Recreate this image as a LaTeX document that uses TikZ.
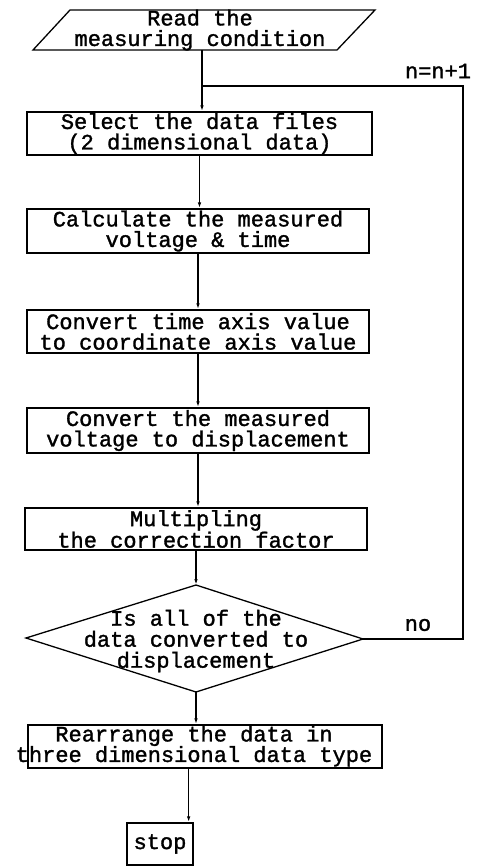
\documentclass[tikz,border=0pt]{standalone}
\usepackage{fontspec}
\newfontfamily\plotfont{Liberation Mono}[FakeBold=1.4]
\usetikzlibrary{arrows.meta}
\begin{document}
\begin{tikzpicture}[x=1pt,y=-1pt,
  every node/.style={font=\plotfont\fontsize{22}{20.5}\selectfont, inner sep=0pt, align=center},
  box/.style={draw, line width=1.3pt, rectangle},
  line/.style={line width=1.3pt},
  arr/.style={line width=1.3pt, -{Latex[length=6pt,width=3.5pt]}},
]
\useasboundingbox (0,0) rectangle (484,867);
% input parallelogram
\coordinate (ptl) at (70,10);
\coordinate (ptr) at (375,10);
\coordinate (pbr) at (337,50);
\coordinate (pbl) at (33,50);
\draw[line] (ptl) -- (ptr) -- (pbr) -- (pbl) -- cycle;
\node (read) at (200,30) {Read the\\measuring condition};
\coordinate (pb) at (202,50);
\coordinate (j) at (202,86);
% boxes
\node[box, minimum width=345pt, minimum height=43pt] (b1) at (199.5,133.5) {Select the data files\\(2 dimensional data)};
\node[box, minimum width=342pt, minimum height=44pt] (b2) at (198,231) {Calculate the measured\\voltage \& time};
\node[box, minimum width=342pt, minimum height=43pt] (b3) at (198,331.5) {Convert time axis value\\to coordinate axis value};
\node[box, minimum width=342pt, minimum height=45pt] (b4) at (198,430.5) {Convert the measured\\voltage to displacement};
\node[box, minimum width=342pt, minimum height=42pt] (b5) at (196,529) {Multipling\\the correction factor};
% decision
\coordinate (dt) at (196,585);
\coordinate (dr) at (363,639);
\coordinate (db) at (196,692);
\coordinate (dl) at (26,638);
\draw[line] (dt) -- (dr) -- (db) -- (dl) -- cycle;
\node[font=\plotfont\fontsize{22}{21}\selectfont] (dtext) at (196,641) {Is all of the\\data converted to\\displacement};
% rearrange
\node[box, minimum width=354pt, minimum height=43pt] (rr) at (205,746.5) {};
\node (rrt) at (194,746) {Rearrange the data in\\three dimensional data type};
% stop
\node[box, minimum width=66pt, minimum height=42pt] (stop) at (160,844) {stop};
\coordinate (si) at ([xshift=-5pt]stop.north east);
% labels
\node (nn) at (438,71) {n=n+1};
\node (no) at (418,625) {no};
% connectors
\draw[arr] (pb) -- (pb |- b1.north);
\draw[arr] (b1.south) -- (b1.south |- b2.north);
\draw[arr] (b2.south) -- (b2.south |- b3.north);
\draw[arr] (b3.south) -- (b3.south |- b4.north);
\draw[arr] (b4.south) -- (b4.south |- b5.north);
\draw[arr] (b5.south -| dt) -- (dt);
\draw[arr] (db) -- (db |- rr.north);
\draw[arr] (rr.south -| si) -- (si);
\coordinate (lc) at (463,639);
\draw[line] (dr) -- (lc) |- (j);
\end{tikzpicture}
\end{document}
